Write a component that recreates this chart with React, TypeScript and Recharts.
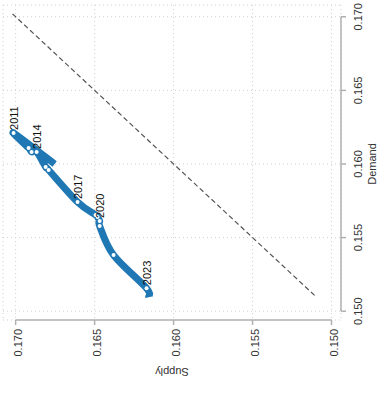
import React from "react";
import {
  LineChart,
  Line,
  XAxis,
  YAxis,
  CartesianGrid,
  ReferenceLine,
  LabelList,
  Label,
} from "recharts";

// path of supply/demand ratios, one point per year
const years = [2010, 2011, 2012, 2013, 2014, 2015, 2016, 2017, 2018, 2019, 2020, 2021, 2022, 2023, 2024];
const supply = [0.16753, 0.17013, 0.16918, 0.16899, 0.16867, 0.1681, 0.16791, 0.16608, 0.16494, 0.16481, 0.16468, 0.16468, 0.1638, 0.16171, 0.16158];
const demand = [0.16, 0.16211, 0.16109, 0.16082, 0.16082, 0.1598, 0.15959, 0.15741, 0.15653, 0.15639, 0.15612, 0.15578, 0.15381, 0.15156, 0.15095];
const labelYears = [2011, 2014, 2017, 2020, 2023];
const firstDotYear = 2011;
const lastDotYear = 2023;

const supplyTicks = [0.17, 0.165, 0.16, 0.155, 0.15];
const demandTicks = [0.15, 0.155, 0.16, 0.165, 0.17];
const diagonal = [0.1702, 0.151];

const xDomain = [0.1494, 0.1708];
const yDomain = [0.1494, 0.1708];

const FONT = "'Liberation Sans', Arial, sans-serif";
const AXIS_GREY = "#b0b0b0";

const data = years.map((year, i) => ({
  year,
  supply: supply[i],
  demand: demand[i],
  label: labelYears.includes(year) ? String(year) : "",
}));

// catmull-rom style smoothing that works with points in any order
const smoothCurve = (context: any) => {
  let pts: number[][] = [];
  return {
    areaStart() {},
    areaEnd() {},
    lineStart() {
      pts = [];
    },
    point(x: number, y: number) {
      pts.push([+x, +y]);
    },
    lineEnd() {
      if (!pts.length) return;
      context.moveTo(pts[0][0], pts[0][1]);
      const t = 1 / 6;
      for (let i = 0; i < pts.length - 1; i++) {
        const p0 = pts[i - 1] || pts[i];
        const p1 = pts[i];
        const p2 = pts[i + 1];
        const p3 = pts[i + 2] || p2;
        context.bezierCurveTo(
          p1[0] + (p2[0] - p0[0]) * t,
          p1[1] + (p2[1] - p0[1]) * t,
          p2[0] - (p3[0] - p1[0]) * t,
          p2[1] - (p3[1] - p1[1]) * t,
          p2[0],
          p2[1]
        );
      }
    },
  };
};

const SupplyTick = (props: any) => {
  const { x, y, payload } = props;
  return (
    <text
      transform={`translate(${x + 6},${y + 2}) rotate(-90)`}
      textAnchor="end"
      fontSize={11}
      fontFamily={FONT}
      fill="#333"
    >
      {payload.value.toFixed(3)}
    </text>
  );
};

const DemandTick = (props: any) => {
  const { x, y, payload } = props;
  return (
    <text
      transform={`translate(${x + 14},${y}) rotate(-90)`}
      textAnchor="middle"
      fontSize={11}
      fontFamily={FONT}
      fill="#333"
    >
      {payload.value.toFixed(3)}
    </text>
  );
};

const YearDot = (props: any) => {
  const { cx, cy, payload, index } = props;
  if (payload.year < firstDotYear || payload.year > lastDotYear) {
    return <g key={`d${index}`} />;
  }
  return <circle key={`d${index}`} cx={cx} cy={cy} r={2} fill="#fff" />;
};

const YearLabel = (props: any) => {
  const { x, y, value } = props;
  if (!value) return null;
  return (
    <text
      transform={`translate(${x + 4},${y - 3}) rotate(-90)`}
      textAnchor="start"
      fontSize={11}
      fontFamily={FONT}
      fill="#111"
    >
      {value}
    </text>
  );
};

export default function App() {
  return (
    <div style={{ position: "absolute", left: 0, top: 0 }}>
      <LineChart
        width={379}
        height={394}
        data={data}
        margin={{ top: 5, left: 3, right: 0, bottom: 0 }}
      >
        <CartesianGrid stroke="#d0d0d0" strokeDasharray="1 3" />
        <XAxis
          type="number"
          dataKey="supply"
          domain={xDomain}
          reversed
          ticks={supplyTicks}
          allowDataOverflow
          height={74}
          axisLine={false}
          tickSize={5}
          tickMargin={2}
          tickLine={{ stroke: AXIS_GREY, strokeWidth: 1.5 }}
          tick={<SupplyTick />}
        >
          <Label
            content={(p: any) => {
              const vb = p.viewBox;
              return (
                <text
                  transform={`translate(${vb.x + vb.width / 2},${vb.y + 48}) rotate(180)`}
                  textAnchor="middle"
                  fontSize={11}
                  fontFamily={FONT}
                  fill="#333"
                >
                  Supply
                </text>
              );
            }}
          />
        </XAxis>
        <YAxis
          type="number"
          orientation="right"
          domain={yDomain}
          ticks={demandTicks}
          allowDataOverflow
          width={38}
          axisLine={false}
          tickSize={5}
          tickMargin={2}
          tickLine={{ stroke: AXIS_GREY, strokeWidth: 1.5 }}
          tick={<DemandTick />}
        >
          <Label
            content={(p: any) => {
              const vb = p.viewBox;
              return (
                <text
                  transform={`translate(${vb.x + 35},${vb.y + vb.height / 2 + 1.5}) rotate(-90)`}
                  textAnchor="middle"
                  fontSize={11}
                  fontFamily={FONT}
                  fill="#333"
                >
                  Demand
                </text>
              );
            }}
          />
        </YAxis>
        <ReferenceLine
          segment={[
            { x: diagonal[0], y: diagonal[0] },
            { x: diagonal[1], y: diagonal[1] },
          ]}
          stroke="#555"
          strokeWidth={1.2}
          strokeDasharray="5 3"
          ifOverflow="visible"
        />
        <ReferenceLine
          segment={[
            { x: supplyTicks[0], y: yDomain[0] },
            { x: supplyTicks[supplyTicks.length - 1], y: yDomain[0] },
          ]}
          stroke={AXIS_GREY}
          strokeWidth={1.5}
          ifOverflow="visible"
        />
        <ReferenceLine
          segment={[
            { x: xDomain[0], y: demandTicks[0] },
            { x: xDomain[0], y: demandTicks[demandTicks.length - 1] },
          ]}
          stroke={AXIS_GREY}
          strokeWidth={1.5}
          ifOverflow="visible"
        />
        <Line
          type={smoothCurve as any}
          dataKey="demand"
          stroke="#1f77b4"
          strokeWidth={7}
          strokeLinejoin="round"
          strokeLinecap="butt"
          dot={YearDot}
          activeDot={false}
          isAnimationActive={false}
        >
          <LabelList dataKey="label" content={YearLabel} />
        </Line>
      </LineChart>
    </div>
  );
}
